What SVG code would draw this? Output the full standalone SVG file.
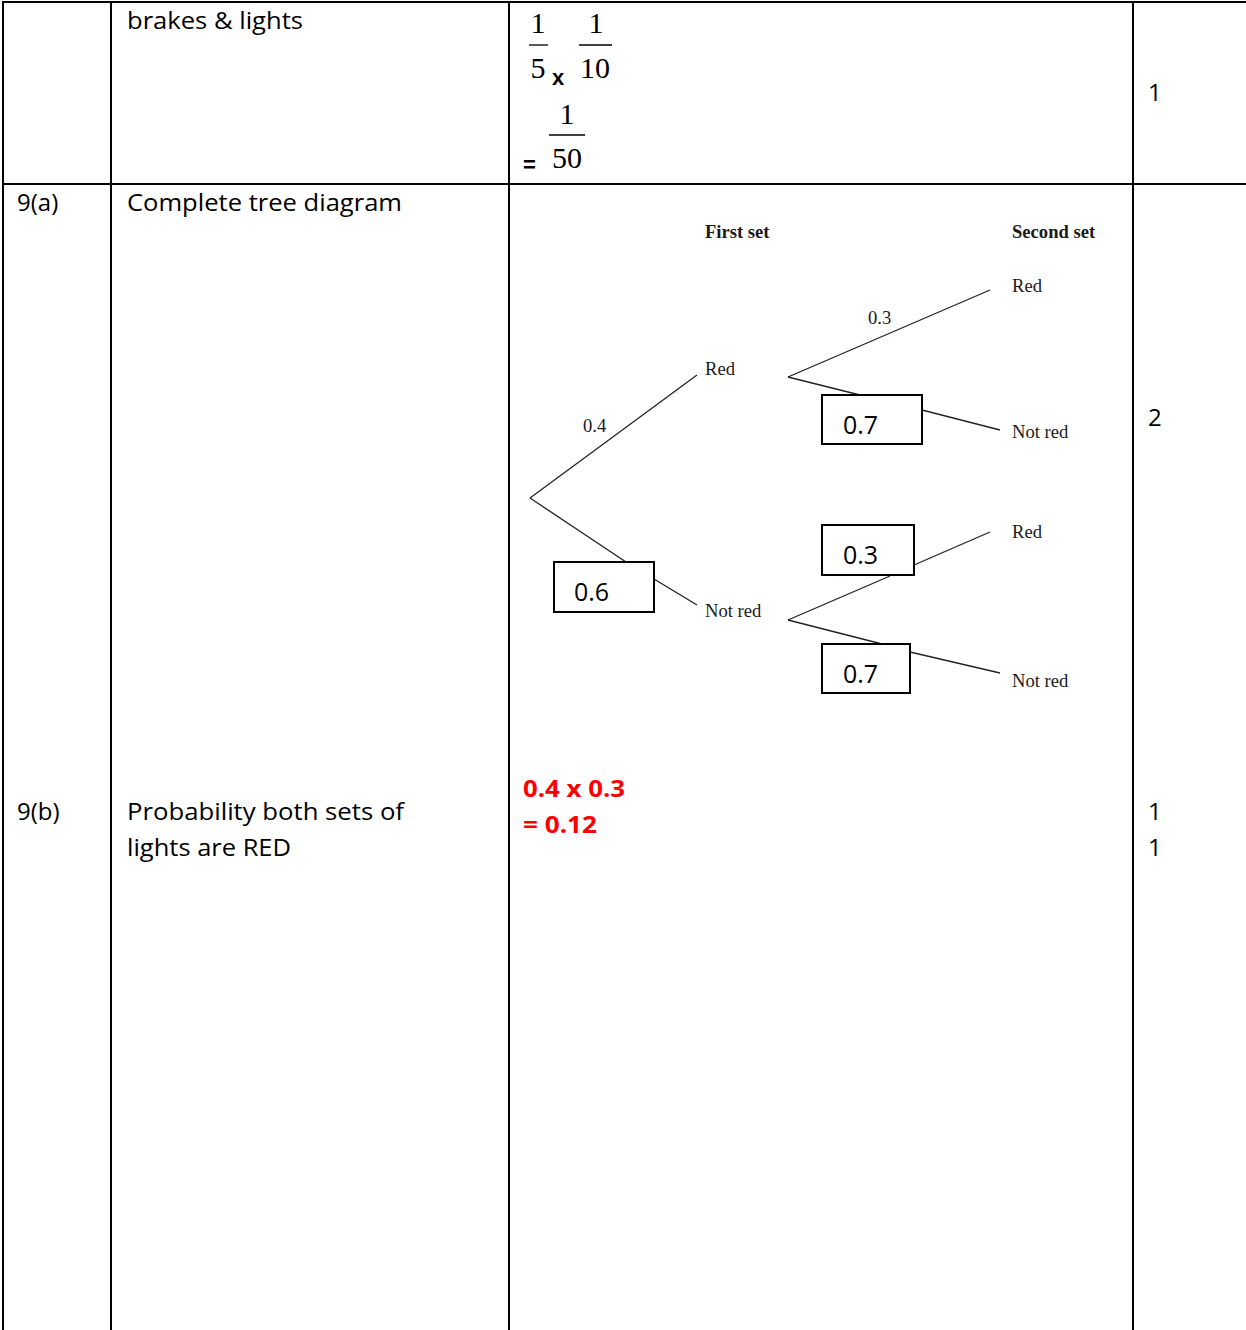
<svg xmlns="http://www.w3.org/2000/svg" width="1246" height="1330" viewBox="0 0 1246 1330">
<style>
.grid{stroke:#000;stroke-width:2;fill:none}
.cal{font-family:"Open Sans","Liberation Sans",sans-serif;font-size:24px;fill:#000}
.tnr{font-family:"Liberation Serif","Times New Roman",serif;fill:#1a1a1a}
.lbl{font-size:18.6px}
.hdr{font-size:18.6px;font-weight:bold}
.frac{font-size:30px;fill:#000}
.br{stroke:#222;stroke-width:1.3;fill:none}
.box{stroke:#000;stroke-width:2;fill:#fff}
.boxt{font-family:"Open Sans","Liberation Sans",sans-serif;font-size:25px;fill:#000}
.red{font-family:"Open Sans","Liberation Sans",sans-serif;font-size:24px;font-weight:bold;fill:#ff0000}
</style>
<rect width="1246" height="1330" fill="#fff"/>
<g id="table">
<line class="grid" x1="3" y1="2" x2="1246" y2="2"/>
<line class="grid" x1="3" y1="184" x2="1246" y2="184"/>
<line class="grid" x1="3" y1="1" x2="3" y2="1330"/>
<line class="grid" x1="111" y1="1" x2="111" y2="1330"/>
<line class="grid" x1="509" y1="1" x2="509" y2="1330"/>
<line class="grid" x1="1133" y1="1" x2="1133" y2="1330"/>
</g>
<g id="row-text">
<text class="cal" x="127" y="29" textLength="176" lengthAdjust="spacingAndGlyphs">brakes &amp; lights</text>
<text class="cal" x="1148" y="101">1</text>
<text class="cal" x="17" y="211">9(a)</text>
<text class="cal" x="127" y="211" textLength="275" lengthAdjust="spacingAndGlyphs">Complete tree diagram</text>
<text class="cal" x="1148" y="426">2</text>
<text class="cal" x="17" y="820">9(b)</text>
<text class="cal" x="127" y="820" textLength="277" lengthAdjust="spacingAndGlyphs">Probability both sets of</text>
<text class="cal" x="127" y="856" textLength="164" lengthAdjust="spacingAndGlyphs">lights are RED</text>
<text class="cal" x="1148" y="820">1</text>
<text class="cal" x="1148" y="856">1</text>
</g>
<g id="fractions">
<text class="tnr frac" x="538" y="33" text-anchor="middle">1</text>
<line x1="529" y1="45" x2="548" y2="45" stroke="#000" stroke-width="1.3"/>
<text class="tnr frac" x="538" y="78" text-anchor="middle">5</text>
<text x="552" y="85" font-family="Liberation Sans,sans-serif" font-size="22" font-weight="bold">x</text>
<text class="tnr frac" x="596" y="33" text-anchor="middle">1</text>
<line x1="579" y1="45" x2="612" y2="45" stroke="#000" stroke-width="1.3"/>
<text class="tnr frac" x="595" y="78" text-anchor="middle">10</text>
<text class="tnr frac" x="567" y="124" text-anchor="middle">1</text>
<line x1="549" y1="135" x2="585" y2="135" stroke="#000" stroke-width="1.3"/>
<text class="tnr frac" x="567" y="168" text-anchor="middle">50</text>
<text x="523" y="172" font-family="Liberation Sans,sans-serif" font-size="22" font-weight="bold">=</text>
</g>
<g id="connectors">
<line class="br" x1="530" y1="498" x2="697" y2="375"/>
<line class="br" x1="530" y1="498" x2="626" y2="562"/>
<line class="br" x1="654" y1="579" x2="697" y2="605"/>
<line class="br" x1="788" y1="377" x2="990" y2="290"/>
<line class="br" x1="788" y1="377" x2="860" y2="395"/>
<line class="br" x1="922" y1="410" x2="1000" y2="430"/>
<line class="br" x1="788" y1="620" x2="890" y2="576"/>
<line class="br" x1="914" y1="565" x2="990" y2="532"/>
<line class="br" x1="788" y1="620" x2="882" y2="644"/>
<line class="br" x1="910" y1="652" x2="1000" y2="673"/>
</g>
<g id="headers">
<text class="tnr hdr" x="705" y="238">First set</text>
<text class="tnr hdr" x="1012" y="238">Second set</text>
</g>
<g id="node-red1"><text class="tnr lbl" x="705" y="375">Red</text></g>
<g id="node-notred1"><text class="tnr lbl" x="705" y="617">Not red</text></g>
<g id="node-red-red"><text class="tnr lbl" x="1012" y="292">Red</text></g>
<g id="node-red-notred"><text class="tnr lbl" x="1012" y="438">Not red</text></g>
<g id="node-notred-red"><text class="tnr lbl" x="1012" y="538">Red</text></g>
<g id="node-notred-notred"><text class="tnr lbl" x="1012" y="687">Not red</text></g>
<g id="label-04"><text class="tnr lbl" x="583" y="432">0.4</text></g>
<g id="label-03"><text class="tnr lbl" x="868" y="324">0.3</text></g>
<g id="box-06"><rect class="box" x="554" y="562" width="100" height="50"/><text class="boxt" x="574" y="601">0.6</text></g>
<g id="box-07a"><rect class="box" x="822" y="395" width="100" height="49"/><text class="boxt" x="843" y="434">0.7</text></g>
<g id="box-03"><rect class="box" x="822" y="525" width="92" height="50"/><text class="boxt" x="843" y="564">0.3</text></g>
<g id="box-07b"><rect class="box" x="822" y="644" width="88" height="49"/><text class="boxt" x="843" y="683">0.7</text></g>
<g id="answer">
<text class="red" x="523" y="797" textLength="102" lengthAdjust="spacingAndGlyphs">0.4 x 0.3</text>
<text class="red" x="523" y="833" textLength="74" lengthAdjust="spacingAndGlyphs">= 0.12</text>
</g>
</svg>
